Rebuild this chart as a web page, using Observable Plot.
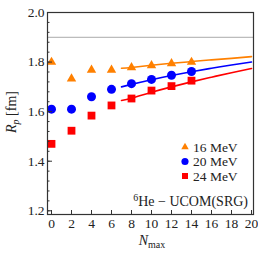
<!DOCTYPE html>
<html><head><meta charset="utf-8">
<script src="https://cdn.jsdelivr.net/npm/d3@7"></script>
<script src="https://cdn.jsdelivr.net/npm/@observablehq/plot@0.6"></script>
<style>
body{margin:0;background:#fff;}
svg{font-family:"Liberation Serif","DejaVu Serif",serif;}
</style></head>
<body><div id="chart"></div>
<script>
const nmax = [0, 2, 4, 6, 8, 10, 12, 14];
const r16 = [1.800, 1.733, 1.768, 1.768, 1.778, 1.786, 1.794, 1.800];
const r20 = [1.610, 1.610, 1.660, 1.690, 1.713, 1.730, 1.747, 1.762];
const r24 = [1.470, 1.523, 1.584, 1.625, 1.653, 1.685, 1.703, 1.725];
const fitN = [7, 8, 10, 12, 14, 16, 18, 20];
const fit16 = [1.775, 1.778, 1.787, 1.795, 1.802, 1.809, 1.815, 1.822];
const fit20 = [1.700, 1.710, 1.729, 1.746, 1.761, 1.775, 1.788, 1.800];
const fit24 = [1.645, 1.654, 1.678, 1.700, 1.720, 1.739, 1.757, 1.774];
const refLine = [1.90];
const yTicks = [1.2, 1.4, 1.6, 1.8, 2.0];
const yMinor = d3.range(0, 21).map(i => 1.2 + i * 0.04);
const xTicks = [0, 2, 4, 6, 8, 10, 12, 14, 16, 18, 20];
const series = [
  {label: "16 MeV", color: "#ff8000", symbol: "triangle", vals: r16, fit: fit16},
  {label: "20 MeV", color: "#0000ff", symbol: "circle", vals: r20, fit: fit20},
  {label: "24 MeV", color: "#ff0000", symbol: "square", vals: r24, fit: fit24}
];
const pts = series.flatMap(s => nmax.map((n, i) => ({n, r: s.vals[i], s: s.label})));
const fits = series.flatMap(s => fitN.map((n, i) => ({n, r: s.fit[i], s: s.label})));

const colorScale = {domain: series.map(s => s.label), range: series.map(s => s.color)};
const symScale = {domain: series.map(s => s.label), range: series.map(s => s.symbol)};

const plot = Plot.plot({
  width: 258, height: 258,
  marginLeft: 47, marginRight: 5, marginTop: 12, marginBottom: 44,
  style: {fontFamily: '"Liberation Serif", serif', fontSize: "13.5px", color: "#222", background: "#fff"},
  x: {domain: [-0.4, 20.2]},
  y: {domain: [1.185, 2.0]},
  color: colorScale,
  symbol: symScale,
  marks: [
    Plot.ruleY(refLine, {stroke: "#aaa", strokeWidth: 1}),
    Plot.line(fits, {x: "n", y: "r", stroke: "s", strokeWidth: 1.6, curve: "natural"}),
    Plot.dot(pts.filter(d => d.s === "16 MeV"), {x: "n", y: "r", fill: "s", symbol: "s", r: 3.5, stroke: "none"}),
    Plot.dot(pts.filter(d => d.s === "20 MeV"), {x: "n", y: "r", fill: "s", symbol: "s", r: 4.5, stroke: "none"}),
    Plot.dot(pts.filter(d => d.s === "24 MeV"), {x: "n", y: "r", fill: "s", symbol: "s", r: 4.4, stroke: "none"}),
    Plot.axisY(yTicks, {tickSize: -5, tickPadding: 8, tickFormat: d3.format(".1f"), label: null, stroke: "#333", fontSize: 13.5, fill: "#222"}),
    Plot.axisY(yMinor, {tickSize: -2.5, tickFormat: () => "", label: null, stroke: "#333"}),
    Plot.axisX(xTicks, {tickSize: -4, tickPadding: 8, label: null, stroke: "#333", fontSize: 13.5, fill: "#222"}),
    Plot.frame({stroke: "#333", strokeWidth: 1.2})
  ]
});
document.getElementById("chart").appendChild(plot);

const svg = d3.select(plot);
// axis labels
const yl = svg.append("text").attr("transform", "translate(16,112) rotate(-90)")
  .attr("text-anchor", "middle").attr("font-size", 14).attr("fill", "#222");
yl.append("tspan").attr("font-style", "italic").text("R");
yl.append("tspan").attr("font-style", "italic").attr("font-size", 10).attr("dy", 3).text("p");
yl.append("tspan").attr("dy", -3).text(" [fm]");

const xl = svg.append("text").attr("x", 152).attr("y", 245)
  .attr("text-anchor", "middle").attr("font-size", 14).attr("fill", "#222");
xl.append("tspan").attr("font-style", "italic").text("N");
xl.append("tspan").attr("font-size", 10).attr("dy", 3).text("max");

// annotation
const an = svg.append("text").attr("x", 248).attr("y", 206)
  .attr("text-anchor", "end").attr("font-size", 14).attr("fill", "#222");
an.append("tspan").attr("font-size", 10).attr("dy", -5).text("6");
an.append("tspan").attr("dy", 5).text("He \u2212 UCOM(SRG)");

// legend
series.forEach((s, i) => {
  const y = 147 + i * 14.5;
  const t = s.symbol === "triangle" ? d3.symbolTriangle : s.symbol === "circle" ? d3.symbolCircle : d3.symbolSquare;
  svg.append("path").attr("d", d3.symbol(t, s.symbol === "triangle" ? 24 : s.symbol === "circle" ? 40 : 36)())
    .attr("transform", `translate(185,${y})`).attr("fill", s.color);
  svg.append("text").attr("x", 193).attr("y", y + 4.5).attr("text-anchor", "start")
    .attr("font-size", 13.5).attr("fill", "#222").text(s.label);
});
</script></body></html>
